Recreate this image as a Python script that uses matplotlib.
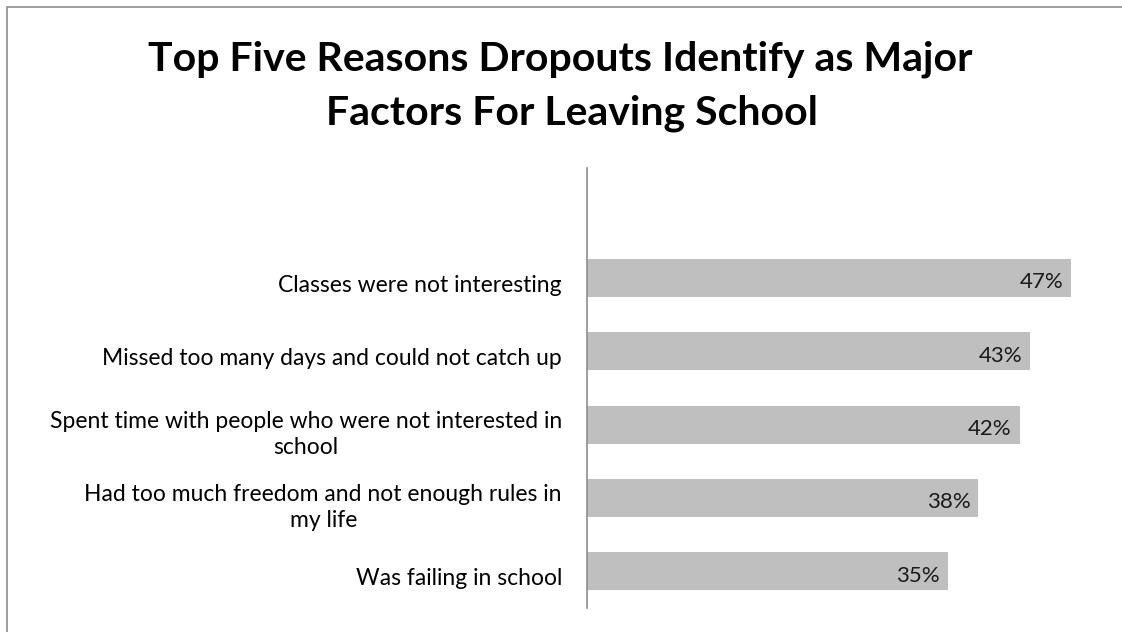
import matplotlib
matplotlib.use("Agg")

import matplotlib.pyplot as plt
from matplotlib.patches import Rectangle
from matplotlib.transforms import ScaledTranslation

# ── data ─────────────────────────────────────────────────────────────────────
REASONS = [
    "Classes were not interesting",
    "Missed too many days and could not catch up",
    "Spent time with people who were not interested in\nschool",
    "Had too much freedom and not enough rules in\nmy life",
    "Was failing in school",
]
PCT = [47, 43, 42, 38, 35]

TITLE_LINES = ["Top Five Reasons Dropouts Identify as Major",
               "Factors For Leaving School"]

# ── style ────────────────────────────────────────────────────────────────────
plt.rcParams["font.family"] = ["Lato", "DejaVu Sans"]

W, H, DPI = 1122, 632, 100
fig = plt.figure(figsize=(W / DPI, H / DPI), dpi=DPI)

# outer chart frame (only left/top edges visible in the picture)
fig.patches.append(Rectangle((7 / W, -0.05), 1.2, 1 - 7 / H + 0.05,
                             transform=fig.transFigure, fill=False,
                             ec="#8c8c8c", lw=1.2))

# title, two lines placed on their baselines
fig.text(560 / W, 1 - 70 / H, TITLE_LINES[0], ha="center", va="baseline",
         fontsize=29.5, fontweight="bold", color="black")
fig.text(572 / W, 1 - 125 / H, TITLE_LINES[1], ha="center", va="baseline",
         fontsize=29.5, fontweight="bold", color="black")

ax = fig.add_axes([587 / W, 1 - 608 / H, (1102 - 587) / W, (608 - 168) / H])

n = len(REASONS)
ypos = list(range(n - 1, -1, -1))   # first reason on top
ax.barh(ypos, PCT, height=0.52, color="#bfbfbf", edgecolor="none")

for y, v in zip(ypos, PCT):
    ax.text(v - 0.75, y - 0.06, f"{v}%", ha="right", va="center",
            fontsize=16, color="#1a1a1a")

ax.set_xlim(0, 50)
ax.set_ylim(-0.5, n + 0.5)
ax.set_yticks(ypos)
ax.set_yticklabels(REASONS, fontsize=16.5, ha="right",
                   multialignment="center", linespacing=1.3)
ax.tick_params(axis="y", length=0, pad=18)
ax.set_xticks([])

# category labels sit a little below the bar centres in the original
shift = ScaledTranslation(0, -5 / DPI, fig.dpi_scale_trans)
for lbl in ax.get_yticklabels():
    lbl.set_transform(lbl.get_transform() + shift)

for s in ("top", "right", "bottom"):
    ax.spines[s].set_visible(False)
ax.spines["left"].set_color("#8c8c8c")
ax.spines["left"].set_linewidth(1.2)

fig.savefig("out.png", dpi=DPI)
